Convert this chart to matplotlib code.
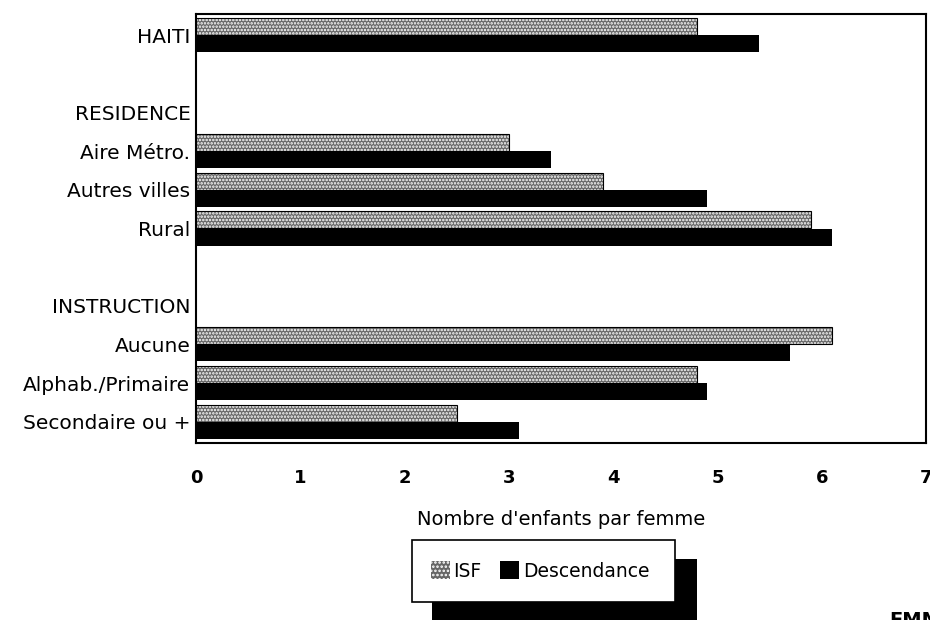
import numpy as np
import matplotlib.pyplot as plt
from matplotlib.patches import Rectangle, Patch

plt.rcParams['font.family'] = ['DejaVu Sans']
plt.rcParams['hatch.linewidth'] = 1.2

# rangées du graphique (lignes vides = séparation entre groupes)
rows = ['HAITI', '', 'RESIDENCE', 'Aire Métro.', 'Autres villes', 'Rural', '',
        'INSTRUCTION', 'Aucune', 'Alphab./Primaire', 'Secondaire ou +']
isf = [4.8, np.nan, np.nan, 3.0, 3.9, 5.9, np.nan, np.nan, 6.1, 4.8, 2.5]
descendance = [5.4, np.nan, np.nan, 3.4, 4.9, 6.1, np.nan, np.nan, 5.7, 4.9, 3.1]
xticks = [0, 1, 2, 3, 4, 5, 6, 7]

fig = plt.figure(figsize=(9.3, 6.2), dpi=100)
ax = fig.add_axes([196 / 930, 1 - 443 / 620, 730 / 930, 429 / 620])

y = np.arange(len(rows))
h = 0.44
isf = np.array(isf)
descendance = np.array(descendance)
m1 = ~np.isnan(isf)
m2 = ~np.isnan(descendance)

ax.barh(y[m1] - h / 2, isf[m1], height=h, color='#666666', edgecolor='white',
        hatch='.....', linewidth=0, zorder=2)
ax.barh(y[m1] - h / 2, isf[m1], height=h, fill=False, edgecolor='black',
        linewidth=0.8, zorder=3)
ax.barh(y[m2] + h / 2, descendance[m2], height=h, color='black', linewidth=0, zorder=2)

ax.set_ylim(len(rows) - 0.45, -0.55)
ax.set_xlim(0, 7)
ax.set_yticks(y)
ax.set_yticklabels(rows, fontsize=14.5)
ax.set_xticks(xticks)
ax.set_xticklabels([str(t) for t in xticks], fontsize=13, fontweight='bold')
ax.tick_params(axis='both', length=0)
ax.tick_params(axis='x', pad=19)
ax.tick_params(axis='y', pad=4)
for s in ax.spines.values():
    s.set_linewidth(1.5)
ax.set_xlabel("Nombre d'enfants par femme", fontsize=14, labelpad=16)

# légende avec ombre noire
W, H = 930, 620
fig.patches.append(Rectangle((432 / W, 0), 265 / W, 61 / H, transform=fig.transFigure,
                             facecolor='black', edgecolor='none', zorder=1))
fig.patches.append(Rectangle((412 / W, 1 - 602 / H), 263 / W, 62 / H, transform=fig.transFigure,
                             facecolor='white', edgecolor='black', linewidth=1.2, zorder=2))
handles = [Patch(facecolor='#666666', edgecolor='white', hatch='....', linewidth=0),
           Patch(facecolor='black')]
leg = fig.legend(handles, ['ISF', 'Descendance'], loc='center',
                 bbox_to_anchor=(540 / W, 1 - 571 / H), ncol=2, frameon=False,
                 fontsize=13.5, handlelength=1.0, handleheight=1.1,
                 handletextpad=0.2, columnspacing=1.0)
leg.set_zorder(3)

fig.text(889 / W, 1 - 611 / H, 'EMM', fontsize=14, fontweight='bold', va='top', ha='left')

plt.savefig('out.png')
